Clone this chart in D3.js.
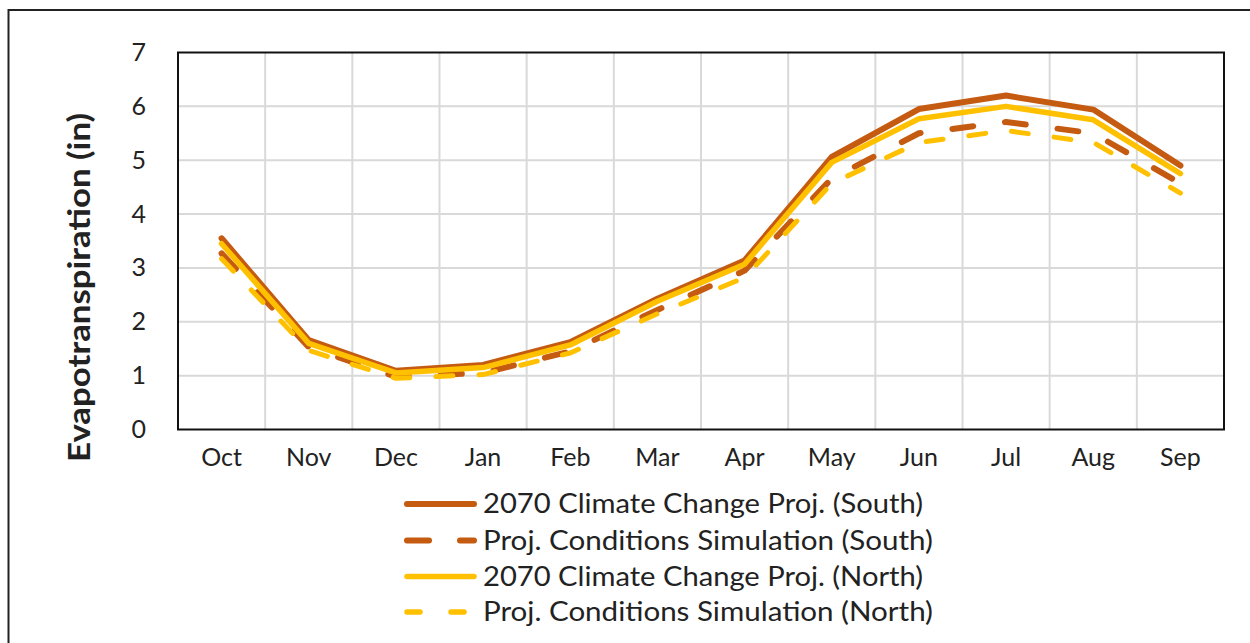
<!DOCTYPE html>
<html><head><meta charset="utf-8">
<script src="https://cdn.jsdelivr.net/npm/d3@7"></script>
<style>
html,body{margin:0;padding:0;background:#fff;}
svg text{font-family:Lato, "Open Sans", sans-serif;fill:#222;}
</style></head>
<body>
<svg id="c" width="1250" height="643"></svg>
<script>
const months = ["Oct","Nov","Dec","Jan","Feb","Mar","Apr","May","Jun","Jul","Aug","Sep"];
const southCC = [3.55,1.66,1.09,1.2,1.62,2.43,3.14,5.06,5.95,6.2,5.94,4.9];
const southPC = [3.27,1.53,0.98,1.05,1.45,2.22,2.95,4.66,5.5,5.71,5.5,4.57];
const northCC = [3.45,1.6,1.05,1.15,1.57,2.38,3.07,4.96,5.77,6.0,5.75,4.75];
const northPC = [3.17,1.47,0.95,1.02,1.42,2.15,2.82,4.57,5.33,5.55,5.33,4.39];
const yTicks = [0,1,2,3,4,5,6,7];
const seriesNames = ["2070 Climate Change Proj. (South)","Proj. Conditions Simulation (South)","2070 Climate Change Proj. (North)","Proj. Conditions Simulation (North)"];
const seriesColors = ["#C55A11","#C55A11","#FFC000","#FFC000"];
const seriesDashed = [false,true,false,true];
const seriesData = [southCC, southPC, northCC, northPC];

const svg = d3.select("#c");
const L=178, R=1224, T=52.5, B=429.5;

// outer border
svg.append("path").attr("d","M8.5,643 L8.5,10 L1250,10").attr("fill","none").attr("stroke","#222").attr("stroke-width",2);

const x = d3.scaleBand().domain(months).range([L,R]);
const y = d3.scaleLinear().domain([0,7]).range([B,T]);

// gridlines
const g = svg.append("g");
g.selectAll(".hg").data(yTicks.filter(d=>d>0&&d<7)).join("line")
  .attr("x1",L).attr("x2",R).attr("y1",d=>y(d)).attr("y2",d=>y(d))
  .attr("stroke","#d9d9d9").attr("stroke-width",2);
g.selectAll(".vg").data(months.slice(1)).join("line")
  .attr("x1",d=>x(d)).attr("x2",d=>x(d)).attr("y1",T).attr("y2",B)
  .attr("stroke","#d9d9d9").attr("stroke-width",2);

// axes labels
const yAxis = d3.axisLeft(y).tickValues(yTicks).tickSize(0).tickPadding(32).tickFormat(d3.format("d"));
const ya = svg.append("g").attr("transform",`translate(${L},0)`).call(yAxis);
ya.select(".domain").remove();
ya.selectAll("text").attr("font-size",25).style("font-family","Lato").attr("fill","#222");

const xAxis = d3.axisBottom(x).tickSize(0).tickPadding(19);
const xa = svg.append("g").attr("transform",`translate(0,${B})`).call(xAxis);
xa.select(".domain").remove();
xa.selectAll("text").attr("font-size",25).style("font-family","Lato").attr("fill","#222");

// lines
const widths = [6,6,5.5,5];
const dashes = [null,"21,32",null,"17,26"];
const line = d3.line().x((d,i)=>x(months[i])+x.bandwidth()/2).y(d=>y(d));
seriesData.forEach((s,k)=>{
  svg.append("path").datum(s).attr("d",line).attr("fill","none")
    .attr("stroke",seriesColors[k]).attr("stroke-width",widths[k])
    .attr("stroke-linecap","round")
    .attr("stroke-linejoin","round")
    .attr("stroke-dasharray", dashes[k]);
});
// plot border
svg.append("rect").attr("x",L).attr("y",T).attr("width",R-L).attr("height",B-T)
  .attr("fill","none").attr("stroke","#111").attr("stroke-width",2);

// y title
svg.append("text").attr("transform","translate(90,287.5) rotate(-90)")
  .attr("text-anchor","middle").attr("font-size",31).attr("font-weight","bold")
  .attr("textLength",349).attr("lengthAdjust","spacingAndGlyphs")
  .attr("fill","#111").text("Evapotranspiration (in)");

// legend
const leg = svg.append("g");
const rowsY = [504,540.5,576.5,612];
const legW = [440,450,440,450];
const legDash = [null,"22,31",null,"13,31"];
seriesNames.forEach((n,k)=>{
  leg.append("line").attr("x1",407).attr("x2",474).attr("y1",rowsY[k]).attr("y2",rowsY[k])
    .attr("stroke",seriesColors[k]).attr("stroke-width",k<2?6:5.5).attr("stroke-linecap","round")
    .attr("stroke-dasharray",legDash[k]);
  leg.append("text").attr("x",483).attr("y",rowsY[k]).attr("dy","0.36em")
    .attr("font-size",26).attr("fill","#222")
    .attr("textLength",legW[k]).attr("lengthAdjust","spacingAndGlyphs").text(n);
});
</script>
</body></html>
